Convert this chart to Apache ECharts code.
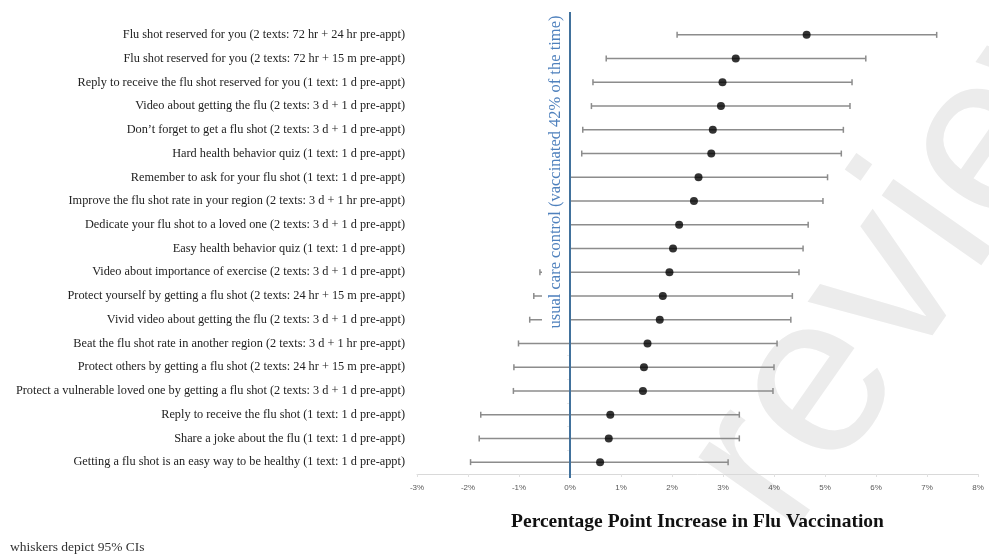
<!DOCTYPE html>
<html><head><meta charset="utf-8">
<script src="https://cdn.jsdelivr.net/npm/echarts@6/dist/echarts.min.js"></script>
<style>html,body{margin:0;padding:0;background:#fff}#c{width:989px;height:559px}</style>
</head><body><div id="c"></div>
<script>
const categories = [
  "Flu shot reserved for you (2 texts: 72 hr + 24 hr pre-appt)",
  "Flu shot reserved for you (2 texts: 72 hr + 15 m pre-appt)",
  "Reply to receive the flu shot reserved for you (1 text: 1 d pre-appt)",
  "Video about getting the flu (2 texts: 3 d + 1 d pre-appt)",
  "Don\u2019t forget to get a flu shot (2 texts: 3 d + 1 d pre-appt)",
  "Hard health behavior quiz (1 text: 1 d pre-appt)",
  "Remember to ask for your flu shot (1 text: 1 d pre-appt)",
  "Improve the flu shot rate in your region (2 texts: 3 d + 1 hr pre-appt)",
  "Dedicate your flu shot to a loved one (2 texts: 3 d + 1 d pre-appt)",
  "Easy health behavior quiz (1 text: 1 d pre-appt)",
  "Video about importance of exercise (2 texts: 3 d + 1 d pre-appt)",
  "Protect yourself by getting a flu shot (2 texts: 24 hr + 15 m pre-appt)",
  "Vivid video about getting the flu (2 texts: 3 d + 1 d pre-appt)",
  "Beat the flu shot rate in another region (2 texts: 3 d + 1 hr pre-appt)",
  "Protect others by getting a flu shot (2 texts: 24 hr + 15 m pre-appt)",
  "Protect a vulnerable loved one by getting a flu shot (2 texts: 3 d + 1 d pre-appt)",
  "Reply to receive the flu shot (1 text: 1 d pre-appt)",
  "Share a joke about the flu (1 text: 1 d pre-appt)",
  "Getting a flu shot is an easy way to be healthy (1 text: 1 d pre-appt)"
];
const pointEstimates = [4.64, 3.25, 2.99, 2.96, 2.80, 2.77, 2.52, 2.43, 2.14, 2.02, 1.95, 1.82, 1.76, 1.52, 1.45, 1.43, 0.79, 0.76, 0.59];
const ciLower = [2.10, 0.71, 0.45, 0.42, 0.25, 0.23, -0.02, -0.11, -0.40, -0.53, -0.59, -0.71, -0.79, -1.01, -1.10, -1.11, -1.75, -1.78, -1.95];
const ciUpper = [7.19, 5.80, 5.53, 5.49, 5.36, 5.32, 5.05, 4.96, 4.67, 4.57, 4.49, 4.36, 4.33, 4.06, 4.00, 3.98, 3.32, 3.32, 3.10];
const xMin = -3, xMax = 8, xInterval = 1;
const controlValue = 0;
const controlLabel = "usual care control (vaccinated 42% of the time)";
const xTitle = "Percentage Point Increase in Flu Vaccination";
const footnote = "whiskers depict 95% CIs";
const watermark = "review";

const chart = echarts.init(document.getElementById('c'), null, {renderer: 'canvas'});
const serif = "'Liberation Serif', 'Times New Roman', serif";

const ciData = categories.map((c, i) => [ciLower[i], ciUpper[i], c]);
const ptData = categories.map((c, i) => [pointEstimates[i], c]);

chart.setOption({
  animation: false,
  backgroundColor: '#fff',
  grid: {left: 417, right: 11, top: 23, bottom: 85, containLabel: false},
  title: {
    text: footnote, left: 5, top: 535,
    textStyle: {fontFamily: serif, fontSize: 13.5, fontWeight: 'normal', color: '#333'}
  },
  xAxis: {
    type: 'value', min: xMin, max: xMax, interval: xInterval,
    axisLine: {show: true, lineStyle: {color: '#d9d9d9', width: 1}},
    axisTick: {show: true, length: 3, lineStyle: {color: '#e0e0e0'}},
    splitLine: {show: false},
    axisLabel: {formatter: v => v + '%', fontFamily: "'Liberation Sans', Arial, sans-serif", fontSize: 8, color: '#595959', margin: 10},
    name: xTitle, nameLocation: 'middle', nameGap: 38,
    nameTextStyle: {fontFamily: serif, fontSize: 19.5, fontWeight: 'bold', color: '#111'}
  },
  yAxis: {
    type: 'category', data: categories, inverse: true,
    axisLine: {show: true, lineStyle: {color: '#d9d9d9', width: 1}},
    axisTick: {show: true, length: 3, lineStyle: {color: '#e6e6e6'}},
    axisLabel: {fontFamily: serif, fontSize: 12.3, color: '#222', margin: 12}
  },
  series: [
    {
      type: 'custom',
      data: ciData,
      encode: {x: [0, 1], y: 2},
      z: 3,
      renderItem: function (params, api) {
        const y = api.value(2);
        const p1 = api.coord([api.value(0), y]);
        const p2 = api.coord([api.value(1), y]);
        const h = 3;
        const st = {stroke: '#8c8c8c', lineWidth: 1.5};
        return {
          type: 'group',
          children: [
            {type: 'line', shape: {x1: p1[0], y1: p1[1], x2: p2[0], y2: p2[1]}, style: st},
            {type: 'line', shape: {x1: p1[0], y1: p1[1] - h, x2: p1[0], y2: p1[1] + h}, style: st},
            {type: 'line', shape: {x1: p2[0], y1: p2[1] - h, x2: p2[0], y2: p2[1] + h}, style: st}
          ]
        };
      }
    },
    {
      type: 'scatter',
      data: ptData,
      symbol: 'circle', symbolSize: 8,
      itemStyle: {color: '#000'},
      z: 4
    }
  ]
});

const x0 = chart.convertToPixel({xAxisIndex: 0}, controlValue);
chart.setOption({
  graphic: [
    {
      type: 'text', z: 0, silent: true,
      x: 928, y: 231, rotation: 0.96,
      style: {text: watermark, fontSize: 230, fontFamily: "'Liberation Sans', Arial, sans-serif",
              fill: '#ececec', textAlign: 'center', textVerticalAlign: 'middle'}
    },
    {
      type: 'rect', z: 50, silent: true,
      shape: {x: x0 - 28, y: 12, width: 27, height: 322},
      style: {fill: '#fff'}
    },
    {
      type: 'line', z: 60, silent: true,
      shape: {x1: x0, y1: 12, x2: x0, y2: 478},
      style: {stroke: '#41719c', lineWidth: 2}
    },
    {
      type: 'text', z: 60, silent: true,
      x: x0 - 14, y: 172, rotation: Math.PI / 2,
      style: {text: controlLabel, fontSize: 16.5, fontFamily: serif, fill: '#4f81bd',
              textAlign: 'center', textVerticalAlign: 'middle'}
    }
  ]
});
</script>
</body></html>
